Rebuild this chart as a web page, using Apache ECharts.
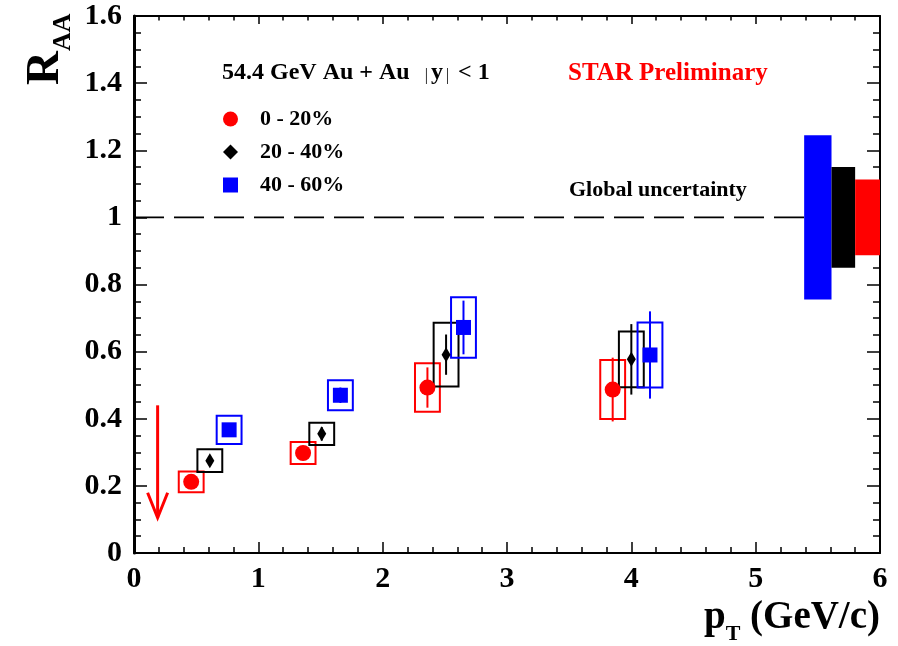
<!DOCTYPE html>
<html>
<head>
<meta charset="utf-8">
<script src="https://cdn.jsdelivr.net/npm/echarts@6/dist/echarts.min.js"></script>
<style>
  html, body { margin: 0; padding: 0; background: #fff; }
  #chart { width: 898px; height: 646px; }
</style>
</head>
<body>
<div id="chart"></div>
<script>
// centrality classes
const centralities = ['0 - 20%', '20 - 40%', '40 - 60%'];

// 0-20%
const pt0020 = [0.46, 1.36, 2.36, 3.85];
const raa0020 = [0.212, 0.298, 0.493, 0.487];
const stat0020 = [0.012, 0.018, 0.06, 0.095];
const sys0020 = [0.031, 0.033, 0.072, 0.088];

// 20-40%
const pt2040 = [0.61, 1.51, 2.51, 4.0];
const raa2040 = [0.275, 0.355, 0.591, 0.577];
const stat2040 = [0.014, 0.02, 0.06, 0.105];
const sys2040 = [0.034, 0.033, 0.095, 0.083];

// 40-60%
const pt4060 = [0.765, 1.66, 2.65, 4.15];
const raa4060 = [0.367, 0.47, 0.672, 0.59];
const stat4060 = [0.02, 0.023, 0.08, 0.13];
const sys4060 = [0.042, 0.045, 0.09, 0.097];

// global uncertainty bands (40-60, 20-40, 0-20)
const globalXStart = [5.39, 5.61, 5.80];
const globalXEnd = [5.61, 5.80, 6.0];
const globalLow = [0.755, 0.85, 0.887];
const globalHigh = [1.245, 1.15, 1.113];

// upper limit arrow (0-20%, lowest pT)
const limitPt = [0.19];
const limitTop = [0.44];
const limitTip = [0.105];

// axis ticks
const xMin = 0, xMax = 6, xStep = 1;
const yMin = 0, yMax = 1.6, yStep = 0.2;

const colors = ['#ff0000', '#000000', '#0000ff'];
const serif = "'Liberation Serif', 'Times New Roman', serif";
const boxHalf = 0.1;

const chart = echarts.init(document.getElementById('chart'));

const zip = (...cols) => cols[0].map((_, i) => cols.map(c => c[i]));

const sets = [
  { name: centralities[0], pt: pt0020, raa: raa0020, stat: stat0020, sys: sys0020, symbol: 'circle', size: 16 },
  { name: centralities[1], pt: pt2040, raa: raa2040, stat: stat2040, sys: sys2040, symbol: 'diamond', size: [9, 15] },
  { name: centralities[2], pt: pt4060, raa: raa4060, stat: stat4060, sys: sys4060, symbol: 'rect', size: 15 }
];

function boxSeries(set, color) {
  return {
    type: 'custom',
    name: set.name + ' sys',
    data: zip(set.pt, set.raa, set.sys),
    z: 3,
    renderItem: (params, api) => {
      const x = api.value(0), y = api.value(1), s = api.value(2);
      const p1 = api.coord([x - boxHalf, y + s]);
      const p2 = api.coord([x + boxHalf, y - s]);
      return {
        type: 'rect',
        shape: { x: p1[0], y: p1[1], width: p2[0] - p1[0], height: p2[1] - p1[1] },
        style: { fill: 'none', stroke: color, lineWidth: 2 }
      };
    }
  };
}

function statSeries(set, color) {
  return {
    type: 'custom',
    name: set.name + ' stat',
    data: zip(set.pt, set.raa, set.stat),
    z: 4,
    renderItem: (params, api) => {
      const x = api.value(0), y = api.value(1), e = api.value(2);
      const a = api.coord([x, y + e]);
      const b = api.coord([x, y - e]);
      return {
        type: 'line',
        shape: { x1: a[0], y1: a[1], x2: b[0], y2: b[1] },
        style: { stroke: color, lineWidth: 2 }
      };
    }
  };
}

function pointSeries(set, color) {
  return {
    type: 'scatter',
    name: set.name,
    data: zip(set.pt, set.raa),
    symbol: set.symbol,
    symbolSize: set.size,
    itemStyle: { color: color, opacity: 1 },
    z: 5
  };
}

const series = [];

// dashed unity line
series.push({
  type: 'line',
  name: 'unity',
  data: [[xMin, 1], [globalXStart[0], 1]],
  symbol: 'none',
  lineStyle: { color: '#000', width: 1.6, type: [30, 10] },
  z: 1
});

// global uncertainty boxes
series.push({
  type: 'custom',
  name: 'global',
  data: zip(globalXStart, globalXEnd, globalLow, globalHigh),
  z: 2,
  renderItem: (params, api) => {
    const p1 = api.coord([api.value(0), api.value(3)]);
    const p2 = api.coord([api.value(1), api.value(2)]);
    const c = [colors[2], colors[1], colors[0]][params.dataIndex];
    return {
      type: 'rect',
      shape: { x: p1[0], y: p1[1], width: p2[0] - p1[0], height: p2[1] - p1[1] },
      style: { fill: c }
    };
  }
});

sets.forEach((s, i) => {
  series.push(boxSeries(s, colors[i]));
  series.push(statSeries(s, colors[i]));
  series.push(pointSeries(s, colors[i]));
});

// upper limit arrow
series.push({
  type: 'custom',
  name: 'limit',
  data: zip(limitPt, limitTop, limitTip),
  z: 5,
  renderItem: (params, api) => {
    const top = api.coord([api.value(0), api.value(1)]);
    const tip = api.coord([api.value(0), api.value(2)]);
    return {
      type: 'group',
      children: [
        { type: 'line', shape: { x1: top[0], y1: top[1], x2: tip[0], y2: tip[1] },
          style: { stroke: colors[0], lineWidth: 3 } },
        { type: 'polyline', shape: { points: [[tip[0] - 10, tip[1] - 25], tip, [tip[0] + 10, tip[1] - 25]] },
          style: { stroke: colors[0], lineWidth: 3, fill: 'none' } }
      ]
    };
  }
});

const tickLabel = { color: '#000', fontFamily: serif, fontWeight: 'bold', fontSize: 30 };

function xAx(pos, showLabel, tickLen) {
  return {
    type: 'value', position: pos, min: xMin, max: xMax, interval: xStep,
    axisLine: { show: true, onZero: false, lineStyle: { color: '#000', width: 2 } },
    axisTick: { show: true, inside: true, length: tickLen, lineStyle: { color: '#000', width: 1.5 } },
    minorTick: { show: true, splitNumber: 5, length: tickLen * 0.55, lineStyle: { color: '#000', width: 1.5 } },
    axisLabel: Object.assign({ show: showLabel, margin: 11 }, tickLabel),
    splitLine: { show: false }
  };
}

function yAx(pos, showLabel, lineW) {
  return {
    type: 'value', position: pos, min: yMin, max: yMax, interval: yStep,
    axisLine: { show: true, onZero: false, lineStyle: { color: '#000', width: lineW } },
    axisTick: { show: true, inside: true, length: 13, lineStyle: { color: '#000', width: 1.5 } },
    minorTick: { show: true, splitNumber: 4, length: 7, lineStyle: { color: '#000', width: 1.5 } },
    axisLabel: Object.assign({ show: showLabel, margin: 12 }, tickLabel),
    splitLine: { show: false }
  };
}

const option = {
  backgroundColor: '#fff',
  animation: false,
  grid: { left: 134, right: 18, top: 16, bottom: 93, containLabel: false },
  xAxis: [xAx('bottom', true, 11), xAx('top', false, 8)],
  yAxis: [yAx('left', true, 3), yAx('right', false, 2)],
  legend: {
    orient: 'vertical',
    left: 218,
    top: 103,
    itemWidth: 15,
    itemHeight: 15,
    itemGap: 11,
    data: centralities,
    selectedMode: false,
    textStyle: { color: '#000', fontFamily: serif, fontWeight: 'bold', fontSize: 22, lineHeight: 22, padding: [0, 0, 0, 17] }
  },
  graphic: [
    {
      type: 'text', left: 222, top: 61,
      style: {
        text: '{a|54.4 GeV Au + Au  }{p||}{a|y}{p||}{a| < 1}',
        rich: {
          a: { fontFamily: serif, fontWeight: 'bold', fontSize: 24, fill: '#000' },
          p: { fontFamily: serif, fontSize: 16, fill: '#000', padding: [6, 3, 0, 3] }
        }
      }
    },
    {
      type: 'text', left: 568, top: 61,
      style: { text: 'STAR Preliminary', fontFamily: serif, fontWeight: 'bold', fontSize: 25, fill: '#ff0000' }
    },
    {
      type: 'text', left: 569, top: 179,
      style: { text: 'Global uncertainty', fontFamily: serif, fontWeight: 'bold', fontSize: 22, fill: '#000' }
    },
    {
      type: 'text', right: 18, top: 598,
      style: {
        text: '{p|p}{s|T}{p| (GeV/c)}',
        rich: {
          p: { fontFamily: serif, fontWeight: 'bold', fontSize: 39, lineHeight: 56, fill: '#000' },
          s: { fontFamily: serif, fontWeight: 'bold', fontSize: 22, lineHeight: 20, verticalAlign: 'bottom', fill: '#000' }
        }
      }
    },
    {
      type: 'text', x: 46, y: 85, rotation: Math.PI / 2,
      style: {
        text: '{r|R}{s|AA}',
        align: 'left', verticalAlign: 'middle',
        rich: {
          r: { fontFamily: serif, fontWeight: 'bold', fontSize: 47, lineHeight: 60, fill: '#000' },
          s: { fontFamily: serif, fontWeight: 'bold', fontSize: 26, lineHeight: 26, verticalAlign: 'bottom', fill: '#000' }
        }
      }
    }
  ],
  series: series
};

chart.setOption(option);
</script>
</body>
</html>
